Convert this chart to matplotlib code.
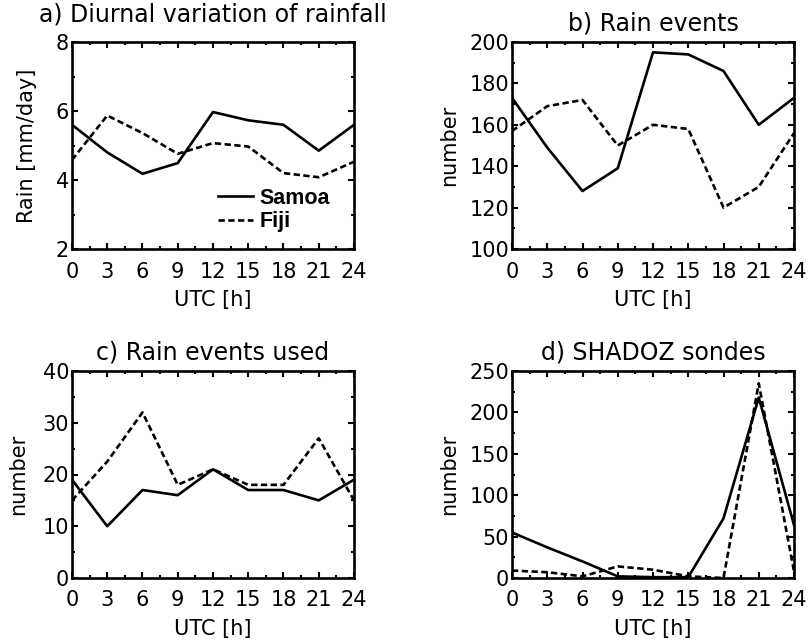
import matplotlib
matplotlib.use('Agg')
import matplotlib.pyplot as plt
from matplotlib.ticker import MultipleLocator

# UTC hours
hours = [0, 3, 6, 9, 12, 15, 18, 21, 24]

# a) Diurnal variation of rainfall (mm/day)
rain_samoa = [5.6, 4.8, 4.18, 4.49, 5.97, 5.73, 5.6, 4.85, 5.6]
rain_fiji = [4.58, 5.87, 5.36, 4.76, 5.07, 4.97, 4.2, 4.08, 4.53]

# b) Rain events
events_samoa = [173, 149, 128, 139, 195, 194, 186, 160, 173]
events_fiji = [157, 169, 172, 150, 160, 158, 120, 130, 156]

# c) Rain events used
used_samoa = [19, 10, 17, 16, 21, 17, 17, 15, 19]
used_fiji = [15, 22.5, 32, 18, 21, 18, 18, 27, 15]

# d) SHADOZ sondes
sondes_samoa = [55, 37, 20, 2, 1, 1, 72, 218, 64]
sondes_fiji = [9, 7, 2, 14, 10, 2, 0, 235, 8]

titles = ['a) Diurnal variation of rainfall', 'b) Rain events',
          'c) Rain events used', 'd) SHADOZ sondes']
ylabels = ['Rain [mm/day]', 'number', 'number', 'number']
ylims = [(2, 8), (100, 200), (0, 40), (0, 250)]
ymajor = [2, 20, 10, 50]
series = [(rain_samoa, rain_fiji), (events_samoa, events_fiji),
          (used_samoa, used_fiji), (sondes_samoa, sondes_fiji)]

plt.rcParams['font.family'] = ['DejaVu Sans']

fig = plt.figure(figsize=(8.08, 6.43), dpi=100)
W, H = 808, 643
boxes = [(72, 42), (512, 42), (72, 371), (512, 371)]
aw, ah = 282, 207
title_pads = [15, 8.5, 8.5, 8.5]
ylabel_x = [-0.16, -0.223, -0.19, -0.223]

dash = (0, (2.4, 1.3))
for i, (x0, y0) in enumerate(boxes):
    ax = fig.add_axes([x0 / W, 1 - (y0 + ah) / H, aw / W, ah / H])
    samoa, fiji = series[i]
    ax.plot(hours, samoa, color='black', lw=1.9, label='Samoa')
    ax.plot(hours, fiji, color='black', lw=1.9, linestyle=dash, label='Fiji')
    ax.set_xlim(0, 24)
    ax.set_ylim(*ylims[i])
    ax.set_xticks(hours)
    ax.xaxis.set_minor_locator(MultipleLocator(1.5))
    ax.yaxis.set_major_locator(MultipleLocator(ymajor[i]))
    ax.yaxis.set_minor_locator(MultipleLocator(ymajor[i] / 2))
    ax.tick_params(which='both', direction='in', top=True, right=True,
                   width=1.5, labelsize=15)
    ax.tick_params(which='major', length=4)
    ax.tick_params(which='minor', length=2.5)
    ax.tick_params(axis='x', pad=9)
    ax.tick_params(axis='y', pad=2)
    for s in ax.spines.values():
        s.set_linewidth(1.9)
    ax.set_title(titles[i], fontsize=17, pad=title_pads[i])
    ax.set_xlabel('UTC [h]', fontsize=15, va='center')
    ax.xaxis.set_label_coords(0.5, -0.246)
    ax.set_ylabel(ylabels[i], fontsize=15, va='center')
    ax.yaxis.set_label_coords(ylabel_x[i], 0.5)
    if i == 0:
        ax.legend(loc='lower right', bbox_to_anchor=(0.945, 0.04),
                  frameon=False, handlelength=1.6, handletextpad=0.3,
                  labelspacing=0.1, borderaxespad=0,
                  prop={'family': 'Liberation Sans', 'weight': 'bold', 'size': 15.5})

fig.savefig('out.png', dpi=100)
